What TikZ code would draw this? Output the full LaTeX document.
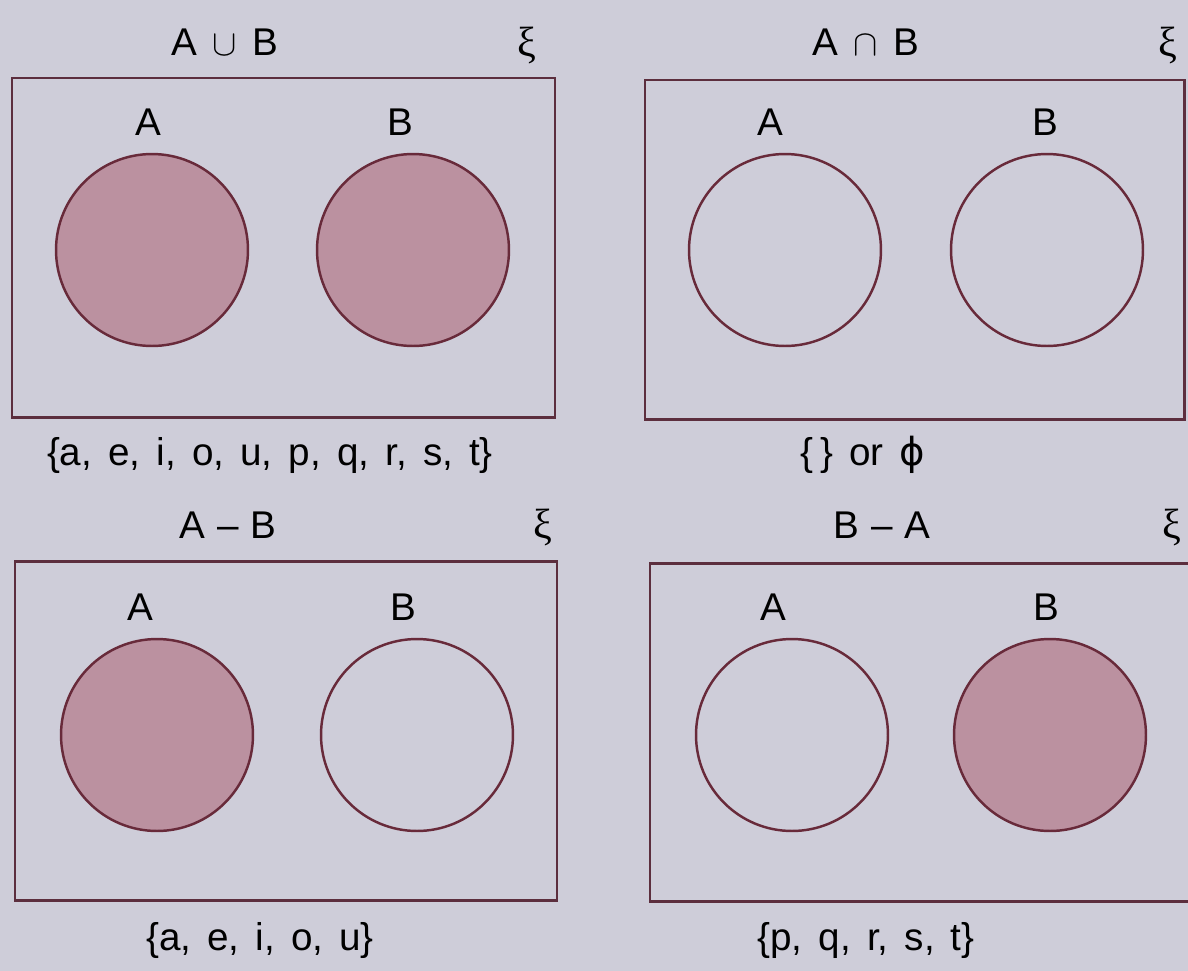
\documentclass[tikz,border=0pt]{standalone}
\usepackage{fontspec}
\setmainfont{Liberation Sans}[WordSpace=1.5]
\newfontfamily\greekfont{Liberation Serif}
\newfontfamily\phifont{DejaVu Sans}

\definecolor{paper}{RGB}{206,205,217}
\definecolor{boxline}{RGB}{92,46,62}
\definecolor{ringline}{RGB}{104,42,58}
\definecolor{setfill}{RGB}{187,145,160}

\tikzset{
	universe/.style={draw=boxline, line width=1.7pt},
	setring/.style={circle, draw=ringline, line width=1.4pt, minimum size=3.84cm, inner sep=0pt},
	setfull/.style={setring, fill=setfill},
	lbl/.style={font=\fontsize{22}{26}\selectfont, inner sep=0pt, text=black},
	xilbl/.style={lbl, font=\fontsize{24}{28}\selectfont\greekfont},
}

\begin{document}
\begin{tikzpicture}[x=0.02cm, y=-0.02cm]
	\useasboundingbox (0,0) rectangle (1188,971);
	\fill[paper] (0,0) rectangle (1188,971);
	
	% Arriba izquierda: A u B
	\draw[universe] (12,78) rectangle (555,417);
	\node[lbl] (unT) at (225,42) {A\hspace{0.4em}$\cup$\hspace{0.4em}B};
	\node[xilbl] (unXi) at (527,45) {ξ};
	\node[lbl] (unAl) at (148,122) {A};
	\node[lbl] (unBl) at (400,122) {B};
	\node[setfull] (unA) at (152,250) {};
	\node[setfull] (unB) at (413,250) {};
	\node[lbl] (unS) at (270,455) {\{a, e, i, o, u, p, q, r, s, t\}};
	
	% Arriba derecha: A n B
	\draw[universe] (645,80) rectangle (1184,419);
	\node[lbl] (inT) at (866,42) {A\hspace{0.4em}$\cap$\hspace{0.4em}B};
	\node[xilbl] (inXi) at (1168,45) {ξ};
	\node[lbl] (inAl) at (770,122) {A};
	\node[lbl] (inBl) at (1045,122) {B};
	\node[setring] (inA) at (785,250) {};
	\node[setring] (inB) at (1047,250) {};
	\node[lbl] (inS) at (863,455) {\{\,\} or {\phifont ϕ}};
	
	% Abajo izquierda: A - B
	\draw[universe] (15,561) rectangle (557,900);
	\node[lbl] (abT) at (228,525) {A\hspace{0.3em}--\hspace{0.3em}B};
	\node[xilbl] (abXi) at (543,527) {ξ};
	\node[lbl] (abAl) at (140,607) {A};
	\node[lbl] (abBl) at (403,607) {B};
	\node[setfull] (abA) at (157,735) {};
	\node[setring] (abB) at (417,735) {};
	\node[lbl] (abS) at (260,940) {\{a, e, i, o, u\}};
	
	% Abajo derecha: B - A
	\draw[universe] (650,563) rectangle (1195,901);
	\node[lbl] (baT) at (882,525) {B\hspace{0.3em}--\hspace{0.3em}A};
	\node[xilbl] (baXi) at (1172,527) {ξ};
	\node[lbl] (baAl) at (773,607) {A};
	\node[lbl] (baBl) at (1046,607) {B};
	\node[setring] (baA) at (792,735) {};
	\node[setfull] (baB) at (1050,735) {};
	\node[lbl] (baS) at (866,940) {\{p, q, r, s, t\}};
\end{tikzpicture}
\end{document}
